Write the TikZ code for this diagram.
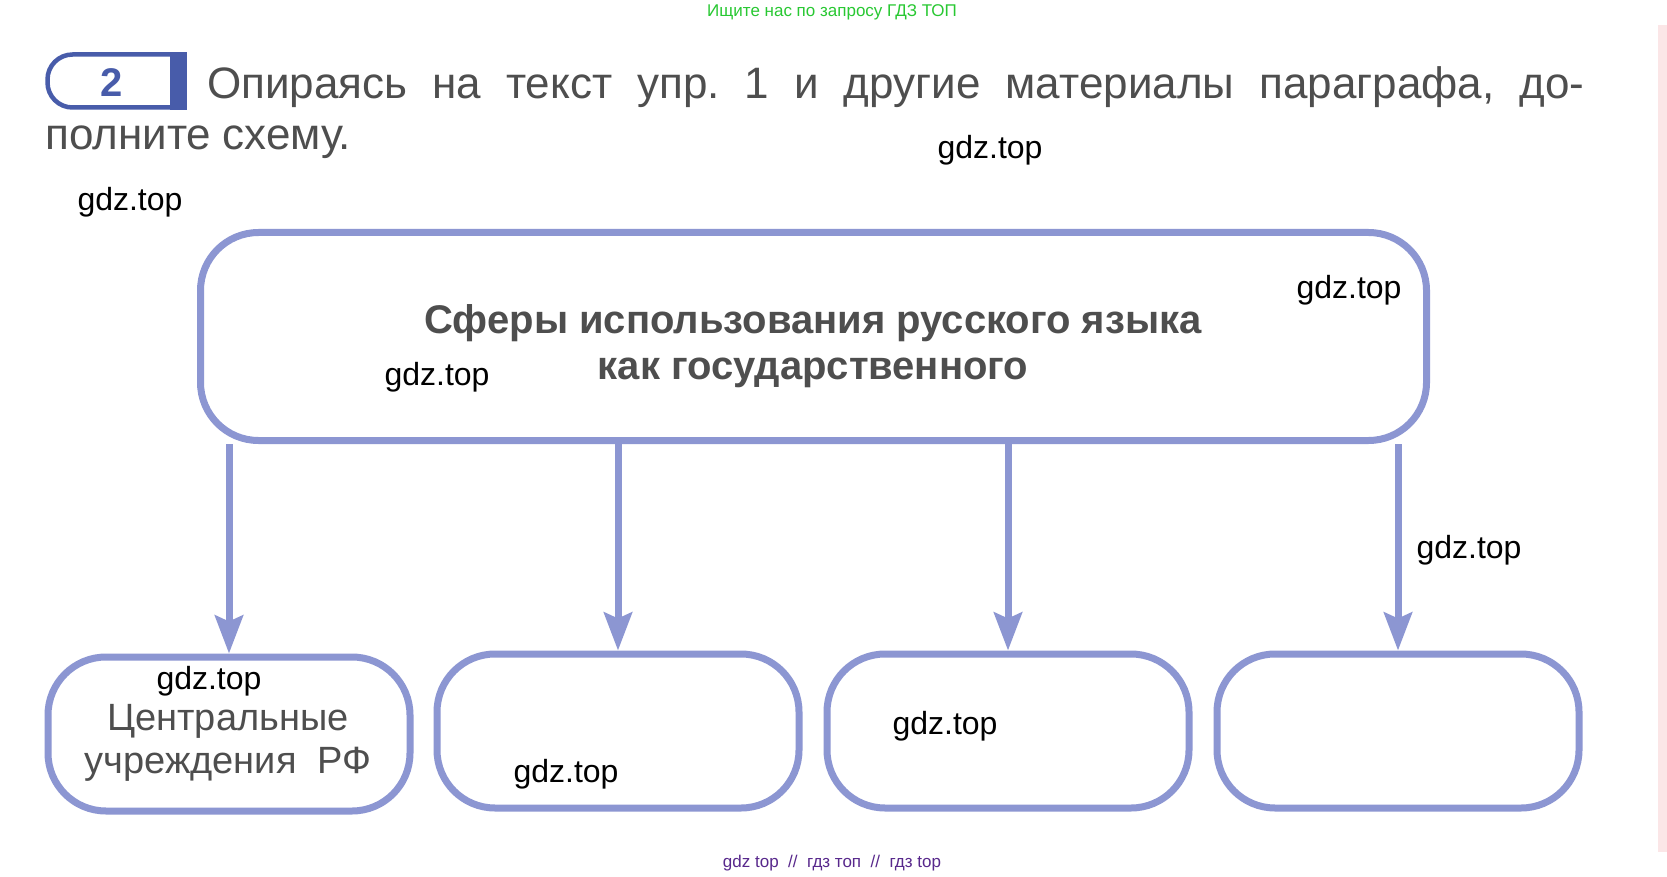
\documentclass[tikz,border=0pt]{standalone}
\usepackage{fontspec}
\setmainfont{Liberation Sans}
\usetikzlibrary{arrows.meta}
\frenchspacing

\definecolor{schemeblue}{RGB}{140,150,210}
\definecolor{numblue}{RGB}{72,92,170}
\definecolor{textgray}{RGB}{78,78,78}
\definecolor{hintgreen}{RGB}{40,200,50}
\definecolor{footviolet}{RGB}{88,40,140}
\definecolor{edgepink}{RGB}{251,230,231}

\tikzset{
    sphere/.style = {draw=schemeblue, line width=7pt, rounded corners=58pt,
        minimum width=362pt, minimum height=154pt, inner sep=0pt},
    link/.style = {draw=schemeblue, line width=7pt,
        -{Stealth[length=38pt, width=28pt, inset=6pt]}},
    watermark/.style = {font=\fontsize{32}{38}\selectfont, text=black, inner sep=0pt},
}

\begin{document}
\begin{tikzpicture}[x=1pt, y=-1pt]
    \fill[white] (0,0) rectangle (1667,877);
    \useasboundingbox (0,0) rectangle (1667,877);
    \fill[edgepink] (1658,25) rectangle (1667,852);

    \node[font=\fontsize{17}{20}\selectfont, text=hintgreen] (hint) at (832,12) {Ищите нас по запросу ГДЗ ТОП};

    % task header
    \draw[numblue, line width=4.5pt, rounded corners=25pt] (172,54.5) -- (47.5,54.5) -- (47.5,107.5) -- (172,107.5);
    \fill[numblue] (170,52) rectangle (187,110);
    \node[font=\fontsize{40}{40}\selectfont\bfseries, text=numblue] (num) at (112,83) {2};
    \node[anchor=base west, inner sep=0pt, font=\fontsize{44}{50}\selectfont, text=textgray] (task1) at (207,99)
        {\makebox[1377pt][s]{Опираясь на текст упр. 1 и другие материалы параграфа, до-}};
    \node[anchor=base west, inner sep=0pt, font=\fontsize{44}{50}\selectfont, text=textgray] (task2) at (45,150)
        {\makebox[306pt][s]{полните схему.}};

    % scheme
    \node[sphere, minimum width=1226pt, minimum height=208pt] (sferes) at (813.5,336.5) {};
    \node[font=\fontsize{40}{46}\selectfont\bfseries, text=textgray, align=center] (sferestext) at (813,346)
        {Сферы использования русского языка\\как государственного};

    \foreach \i/\x/\y in {1/229/734, 2/618/731, 3/1008/731, 4/1398/731} {
        \node[sphere] (box\i) at (\x,\y) {};
        \draw[link] (sferes.south -| box\i) -- (box\i.north);
    }
    \node[font=\fontsize{38}{43}\selectfont, text=textgray, align=center] (box1text) at (228,743)
        {Центральные\\учреждения \ РФ};

    \foreach \x/\y [count=\n] in {990/150, 130/202, 1349/290, 437/377, 1469/550, 209/681, 566/774, 945/726}
        \node[watermark] (gdz\n) at (\x,\y) {gdz.top};

    \node[font=\fontsize{17}{20}\selectfont, text=footviolet] (foot) at (832,863) {gdz top \ // \ гдз топ \ // \ гдз top};
\end{tikzpicture}
\end{document}
